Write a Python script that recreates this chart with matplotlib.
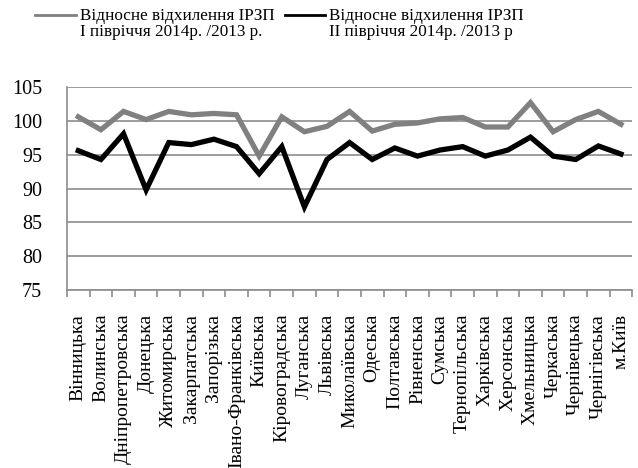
import matplotlib
matplotlib.use("Agg")
import matplotlib.pyplot as plt
from matplotlib.lines import Line2D
import numpy as np

plt.rcParams['font.family'] = ['Liberation Serif', 'DejaVu Serif']

regions = ["Вінницька", "Волинська", "Дніпропетровська", "Донецька", "Житомирська",
           "Закарпатська", "Запорізька", "Івано-Франківська", "Київська", "Кіровоградська",
           "Луганська", "Львівська", "Миколаївська", "Одеська", "Полтавська", "Рівненська",
           "Сумська", "Тернопільська", "Харківська", "Херсонська", "Хмельницька",
           "Черкаська", "Чернівецька", "Чернігівська", "м.Київ"]

# відхилення ІРЗП, І півріччя
half1 = [100.6, 98.7, 101.4, 100.2, 101.4, 100.9, 101.1, 100.9, 94.8, 100.6, 98.4, 99.2,
         101.4, 98.5, 99.5, 99.7, 100.3, 100.5, 99.1, 99.1, 102.7, 98.4, 100.2, 101.4, 99.5]
# відхилення ІРЗП, ІІ півріччя
half2 = [95.6, 94.3, 98.1, 89.8, 96.8, 96.5, 97.3, 96.2, 92.2, 96.2, 87.3, 94.3,
         96.8, 94.3, 96.0, 94.8, 95.7, 96.2, 94.8, 95.7, 97.6, 94.8, 94.3, 96.3, 95.1]

label1 = "Відносне відхилення ІРЗП\nІ півріччя 2014р. /2013 р."
label2 = "Відносне відхилення ІРЗП\nІІ півріччя 2014р. /2013 р"

fig = plt.figure(figsize=(6.38, 4.68), dpi=100)
ax = fig.add_axes([0.105, 0.380, 0.886, 0.434])

x = np.arange(len(regions))
ax.plot(x, half1, color='#808080', lw=3.8, solid_joinstyle='miter', zorder=3)
ax.plot(x, half2, color='black', lw=3.8, solid_joinstyle='miter', zorder=4)

ax.set_xlim(-0.5, len(regions) - 0.5)
ax.set_ylim(75, 105)
ax.set_yticks(np.arange(75, 106, 5))
ax.yaxis.grid(True, color='#8c8c8c', lw=1.2)
ax.set_axisbelow(True)

ax.set_xticks(x)
ax.set_xticklabels(regions, rotation=90, fontsize=14, family='Liberation Serif')
ax.tick_params(axis='x', length=0, pad=17)
ax.set_xticks(np.arange(-0.5, len(regions)), minor=True)
ax.tick_params(axis='x', which='minor', length=5, color='#8c8c8c', width=1.2)
ax.tick_params(axis='y', length=0, labelsize=14.5, pad=18)
for t in ax.get_yticklabels():
    t.set_family('Liberation Serif')

for s in ['top', 'right']:
    ax.spines[s].set_visible(False)
for s in ['left', 'bottom']:
    ax.spines[s].set_color('#8c8c8c')
    ax.spines[s].set_linewidth(1.2)

# легенда вгорі
fig.add_artist(Line2D([35 / 638, 76 / 638], [1 - 15 / 468] * 2, color='#808080', lw=2))
fig.text(80 / 638, 1 - 8 / 468, label1, va='top', ha='left', fontsize=12.3,
         linespacing=1.0, family='Liberation Serif')
fig.add_artist(Line2D([285 / 638, 325 / 638], [1 - 15 / 468] * 2, color='black', lw=2))
fig.text(329 / 638, 1 - 8 / 468, label2, va='top', ha='left', fontsize=12.3,
         linespacing=1.0, family='Liberation Serif')

fig.savefig("out.png", dpi=100)
